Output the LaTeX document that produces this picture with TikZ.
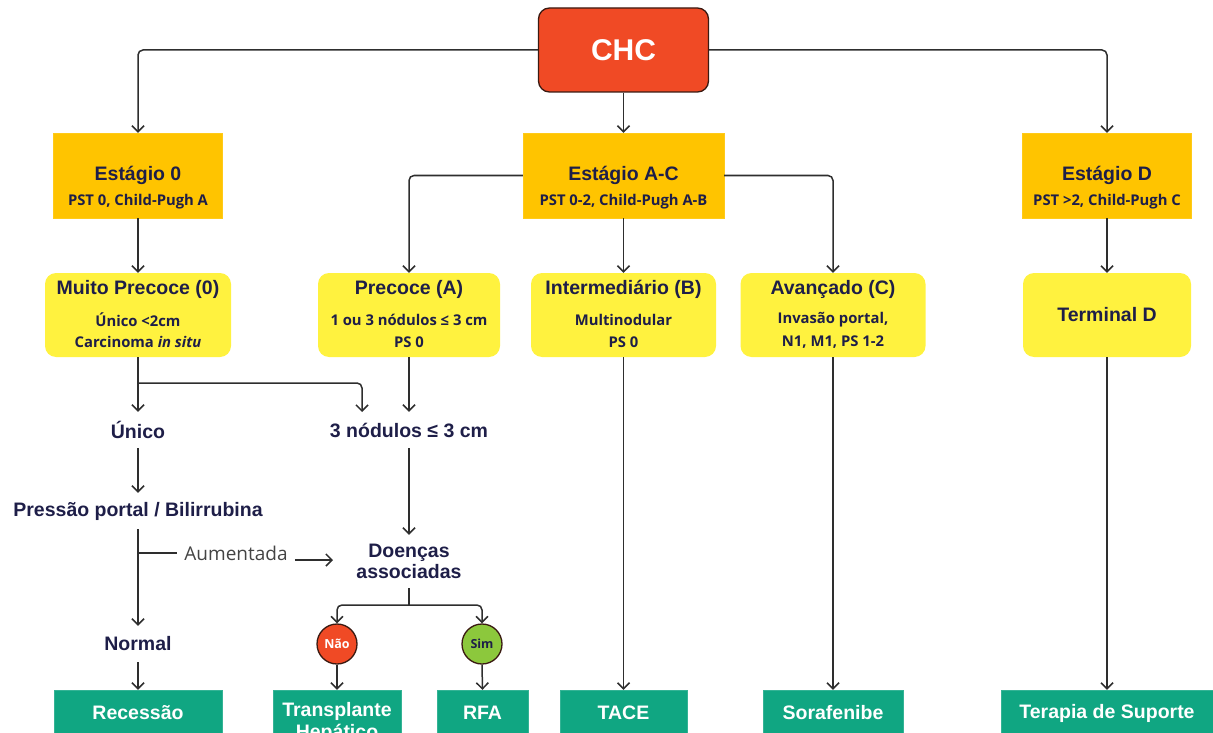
\documentclass[tikz,border=0pt]{standalone}
\usepackage{fontspec}
\setmainfont{Liberation Sans}
\newfontfamily\osans{Open Sans}
\usetikzlibrary{arrows.meta}
\definecolor{chcred}{HTML}{F04A25}
\definecolor{chcborder}{HTML}{3A1A12}
\definecolor{stageor}{HTML}{FFC400}
\definecolor{yel}{HTML}{FFF23F}
\definecolor{tgreen}{HTML}{10A682}
\definecolor{navy}{HTML}{1E1E48}
\definecolor{linec}{HTML}{2E2E2E}
\definecolor{simg}{HTML}{8CC83C}
\definecolor{aumg}{HTML}{444444}
\begin{document}
\begin{tikzpicture}[x=1pt,y=-1pt,
  line/.style={draw=linec,line width=1.5pt},
  arr/.style={line,-{Straight Barb[length=6pt,width=12pt,line width=1.5pt]}},
  rc/.style={rounded corners=5pt},
  titlef/.style={font=\bfseries\fontsize{19.5}{22}\selectfont,text=navy},
  subf/.style={font=\osans\bfseries\fontsize{14.8}{16}\selectfont,text=navy},
  txt/.style={inner sep=0pt},
  chcbox/.style={fill=chcred,draw=chcborder,line width=1.3pt,rounded corners=11pt,
    minimum width=170pt,minimum height=84pt,inner sep=0pt,text=white,
    font=\bfseries\fontsize{30}{32}\selectfont},
  stagebox/.style={fill=stageor,draw=stageor!90!white,minimum width=169pt,minimum height=85pt,inner sep=0pt},
  yelbox/.style={fill=yel,rounded corners=11pt,minimum height=84pt,inner sep=0pt},
  lbl/.style={titlef,inner sep=0pt,minimum height=36pt},
  gbox/.style={fill=tgreen,draw=tgreen!85!white,minimum height=46pt,inner sep=0pt,text=white,
    font=\bfseries\fontsize{19.5}{22}\selectfont},
  circ/.style={circle,draw=chcborder,line width=1.3pt,minimum size=40pt,inner sep=0pt,
    font=\osans\bfseries\fontsize{12.5}{13}\selectfont}
]
\useasboundingbox (0,0) rectangle (1213,733);
\clip (0,0) rectangle (1213,733);

% top
\node[chcbox] (chc) at (623.5,50) {CHC};

% stages
\node[stagebox] (e0) at (138,175.5) {};
\node[txt,titlef] (e0t) at (138,175) {Estágio 0};
\node[txt,subf] (e0s) at (138,202) {PST 0, Child-Pugh A};
\node[stagebox,minimum width=201pt] (eac) at (623.5,175.5) {};
\node[txt,titlef] (eact) at (623.5,175) {Estágio A-C};
\node[txt,subf] (eacs) at (623.5,202) {PST 0-2, Child-Pugh A-B};
\node[stagebox] (ed) at (1107,175.5) {};
\node[txt,titlef] (edt) at (1107,175) {Estágio D};
\node[txt,subf] (eds) at (1107,202) {PST >2, Child-Pugh C};

% yellow boxes
\node[yelbox,minimum width=186pt] (mp) at (138,315) {};
\node[txt,titlef] (mpt) at (138,289) {Muito Precoce (0)};
\node[txt,subf] (mp1) at (138,320) {Único <2cm};
\node[txt,subf] (mp2) at (138,342) {Carcinoma \textit{in situ}};
\node[yelbox,minimum width=182pt] (pa) at (409,315) {};
\node[txt,titlef] (pat) at (409,289) {Precoce (A)};
\node[txt,subf] (pa1) at (409,320) {1 ou 3 nódulos ≤ 3 cm};
\node[txt,subf] (pa2) at (409,342) {PS 0};
\node[yelbox,minimum width=185pt] (ib) at (623.5,315) {};
\node[txt,titlef] (ibt) at (623.5,289) {Intermediário (B)};
\node[txt,subf] (ib1) at (623.5,320) {Multinodular};
\node[txt,subf] (ib2) at (623.5,342) {PS 0};
\node[yelbox,minimum width=185pt] (av) at (833,315) {};
\node[txt,titlef] (avt) at (833,289) {Avançado (C)};
\node[txt,subf] (av1) at (833,320) {Invasão portal,};
\node[txt,subf] (av2) at (833,342) {N1, M1, PS 1-2};
\node[yelbox,minimum width=168pt] (td) at (1107,315) {};
\node[txt,titlef] (tdt) at (1107,315) {Terminal D};

% decision labels
\node[lbl] (unico) at (138,430) {Único};
\node[lbl] (nod) at (409,430) {3 nódulos ≤ 3 cm};
\node[lbl] (pres) at (138,511) {Pressão portal / Bilirrubina};
\node[lbl] (normal) at (138,644) {Normal};
\node[lbl,minimum height=53pt,align=center,font=\bfseries\fontsize{19.5}{21}\selectfont] (doen) at (409,561.5) {Doenças\\associadas};
\node[inner ysep=0pt,inner xsep=7pt,text=aumg,font=\osans\fontsize{19}{20}\selectfont] (aum) at (236,553) {Aumentada};

% circles
\node[circ,fill=chcred,text=white] (nao) at (337,644) {Não};
\node[circ,fill=simg,text=navy] (sim) at (482,644) {Sim};

% treatments
\node[gbox,minimum width=168pt] (rec) at (138,713) {Recessão};
\node[gbox,minimum width=128pt,minimum height=64pt,align=center,
  font=\bfseries\fontsize{19.5}{22}\selectfont] (tr) at (337,722) {Transplante\\Hepático};
\node[gbox,minimum width=91pt] (rfa) at (482.5,713) {RFA};
\node[gbox,minimum width=127pt] (tace) at (623.5,713) {TACE};
\node[gbox,minimum width=140pt] (sor) at (833,713) {Sorafenibe};
\node[gbox,minimum width=212pt] (ter) at (1107,713) {Terapia de Suporte};

% connectors
\draw[arr,rc] (chc.west) -| (e0.north);
\draw[arr,rc] (chc.east) -| (ed.north);
\draw[arr] (chc.south) -- (eac.north);
\draw[arr,rc] (eac.west) -| (pa.north);
\draw[arr,rc] (eac.east) -| (av.north);
\draw[arr] (eac.south) -- (ib.north);
\draw[arr] (e0.south) -- (mp.north);
\draw[arr] (ed.south) -- (td.north);

\draw[arr] (mp.south) -- (unico.north);
\coordinate (br1) at (138,383);
\coordinate (nodin) at (362,412);
\draw[arr,rc] (br1) -| (nodin);
\draw[arr] (pa.south) -- (nod.north);
\draw[arr] (unico.south) -- (pres.north);
\draw[arr] (pres.south) -- (normal.north);
\coordinate (br2) at (138,553);
\draw[line] (br2) -- (aum.west);
\coordinate (aumend) at (333,560);
\draw[arr] (aum.east |- aumend) -- (aumend);
\draw[arr] (nod.south) -- (doen.north);
\coordinate (br3) at (409,605);
\draw[line] (doen.south) -- (br3);
\draw[arr,rc] (br3) -| (nao.north);
\draw[arr,rc] (br3) -| (sim.north);
\draw[arr] (nao.south) -- (tr.north);
\draw[arr] (sim.south) -- (rfa.north);
\draw[arr] (normal.south) -- (rec.north);
\draw[arr] (ib.south) -- (tace.north);
\draw[arr] (av.south) -- (sor.north);
\draw[arr] (td.south) -- (ter.north);
\end{tikzpicture}
\end{document}
